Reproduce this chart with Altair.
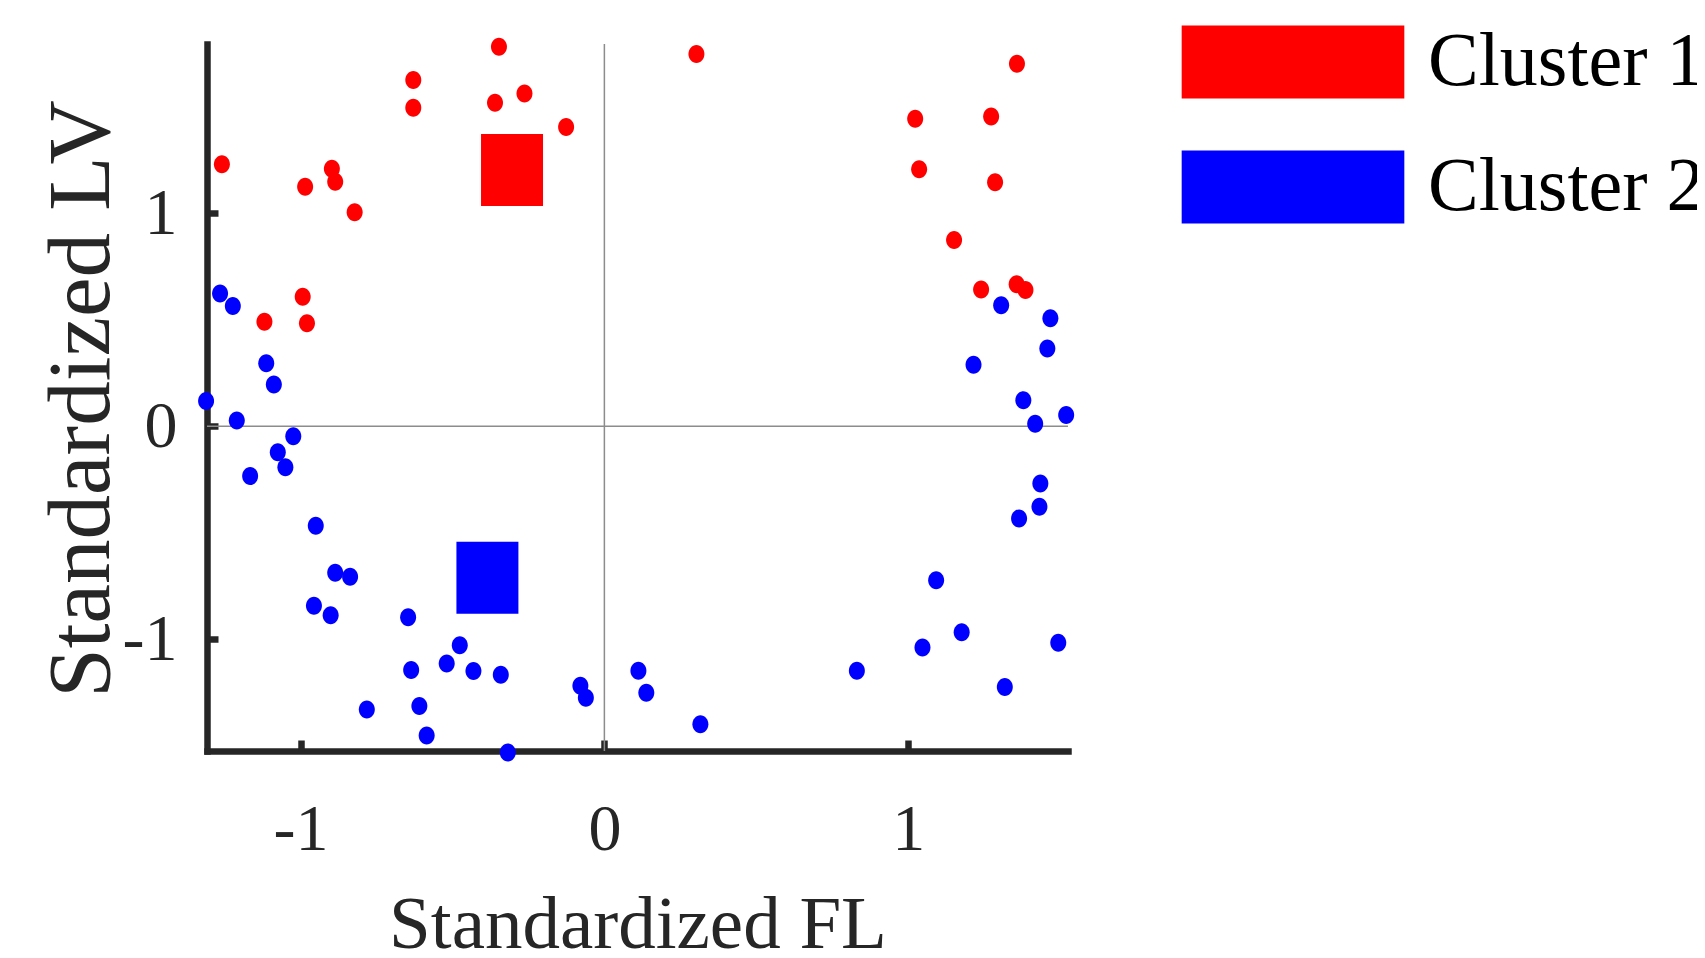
import altair as alt
import pandas as pd

# ---- data ----
c1_x = [-0.347, -0.629, -0.629, -0.263, -0.360, -0.126, -1.259, -0.897, -0.886, -0.985,
        -0.822, -0.993, -1.119, -0.979, 0.303, 1.358, 1.023, 1.273, 1.036, 1.286,
        1.151, 1.240, 1.357, 1.386]
c1_y = [1.782, 1.626, 1.496, 1.563, 1.519, 1.405, 1.231, 1.209, 1.148, 1.125,
        1.005, 0.608, 0.491, 0.484, 1.748, 1.702, 1.444, 1.455, 1.207, 1.146,
        0.875, 0.643, 0.667, 0.640]
c2_x = [-1.265, -1.223, -1.113, -1.088, -1.311, -1.210, -1.024, -1.075, -1.050, -1.166,
        -0.950, -0.886, -0.837, -0.956, -0.901, -0.646, -0.476, -0.519, -0.636, -0.431,
        -0.341, -0.079, -0.061, -0.782, -0.609, -0.585, -0.318, 1.306, 1.468, 1.458,
        1.215, 1.379, 1.520, 1.418, 1.435, 1.432, 1.365, 1.092, 1.176, 1.047,
        1.494, 0.831, 1.318, 0.112, 0.138, 0.316]
c2_y = [0.624, 0.565, 0.296, 0.197, 0.119, 0.028, -0.046, -0.122, -0.192, -0.233,
        -0.467, -0.687, -0.706, -0.842, -0.887, -0.896, -1.028, -1.113, -1.144, -1.149,
        -1.166, -1.218, -1.274, -1.329, -1.313, -1.451, -1.531, 0.569, 0.507, 0.366,
        0.289, 0.123, 0.053, 0.012, -0.268, -0.377, -0.432, -0.722, -0.967, -1.038,
        -1.016, -1.147, -1.223, -1.147, -1.251, -1.398]
cent_x = [-0.304, -0.385]
cent_y = [1.203, -0.711]
cluster_names = ["Cluster 1", "Cluster 2"]
cluster_colors = ["#ff0000", "#0000ff"]
x_ticks = [-1, 0, 1]
y_ticks = [-1, 0, 1]
x_domain = [-1.308, 1.526]
y_domain = [-1.524, 1.795]
zero_vals = [0]

pts = pd.DataFrame({
    "fl": c1_x + c2_x,
    "lv": c1_y + c2_y,
    "cluster": [cluster_names[0]] * len(c1_x) + [cluster_names[1]] * len(c2_x),
})
cent = pd.DataFrame({"fl": cent_x, "lv": cent_y, "cluster": cluster_names})
zero = pd.DataFrame({"v": zero_vals})

W, H = 861, 707
FONT = "Liberation Serif"
AX = "#262626"
LAB = "(datum.value < 0 ? '-' : '') + abs(datum.value)"

ELLIPSE = "M-0.889,0A0.889,1,0,1,0,0.889,0A0.889,1,0,1,0,-0.889,0Z"
CENT_RECT = "M-0.861,-1L0.861,-1L0.861,1L-0.861,1Z"
LEG_RECT = "M-3.05,-1L3.05,-1L3.05,1L-3.05,1Z"

xs = alt.Scale(domain=x_domain, nice=False, zero=False)
ys = alt.Scale(domain=y_domain, nice=False, zero=False)
cs = alt.Scale(domain=cluster_names, range=cluster_colors)

main_x_axis = alt.Axis(
    orient="bottom", values=x_ticks, labelExpr=LAB, ticks=False, tickSize=0, grid=False,
    domain=True, domainColor=AX, domainWidth=6.5, domainCap="square",
    labelFont=FONT, labelFontSize=66, labelColor=AX, labelPadding=98,
    labelBaseline="alphabetic", labelAlign="center", labelFlush=False, labelOverlap=False,
    title="Standardized FL", titleFont=FONT, titleFontSize=75, titleFontWeight="normal",
    titleColor=AX, titleBaseline="alphabetic", titleX=W / 2, titleY=196, titleAlign="center",
)
main_y_axis = alt.Axis(
    orient="left", values=y_ticks, labelExpr=LAB, ticks=False, tickSize=0, grid=False,
    domain=True, domainColor=AX, domainWidth=6.5, domainCap="square",
    labelFont=FONT, labelFontSize=66, labelColor=AX, labelPadding=30,
    labelBaseline="middle", labelAlign="right", labelFlush=False, labelOverlap=False,
    title="Standardized LV", titleFont=FONT, titleFontSize=89, titleFontWeight="normal",
    titleColor=AX, titleBaseline="alphabetic", titleAngle=270, titleX=-99, titleY=354.5,
    titleAlign="center",
)
tick_x_axis = alt.Axis(
    orient="top", offset=-H, values=x_ticks, labels=False, domain=False, grid=False,
    ticks=True, tickSize=11, tickWidth=6.5, tickColor=AX, title=None,
)
tick_y_axis = alt.Axis(
    orient="right", offset=-W, values=y_ticks, labels=False, domain=False, grid=False,
    ticks=True, tickSize=11, tickWidth=6.5, tickColor=AX, title=None,
)

legend = alt.Legend(
    title=None, orient="none", legendX=1048, legendY=-20, direction="vertical",
    symbolType=LEG_RECT, symbolSize=5329, symbolOffset=0, symbolStrokeWidth=0,
    symbolOpacity=1, labelOffset=97, labelFont=FONT, labelFontSize=76,
    labelColor="#000000", labelLimit=0, rowPadding=49, padding=0,
)

vrule = alt.Chart(zero).mark_rule(color="#8c8c8c", strokeWidth=1.5).encode(
    x=alt.X("v:Q", scale=xs, axis=None))
hrule = alt.Chart(zero).mark_rule(color="#8c8c8c", strokeWidth=1.5).encode(
    y=alt.Y("v:Q", scale=ys, axis=None))

points = alt.Chart(pts).mark_point(
    shape=ELLIPSE, size=324, filled=True, opacity=1, strokeWidth=0
).encode(
    x=alt.X("fl:Q", scale=xs, axis=main_x_axis),
    y=alt.Y("lv:Q", scale=ys, axis=main_y_axis),
    color=alt.Color("cluster:N", scale=cs, legend=legend),
)

centroids = alt.Chart(cent).mark_point(
    shape=CENT_RECT, size=5184, filled=True, opacity=1, strokeWidth=0
).encode(
    x=alt.X("fl:Q", scale=xs, axis=tick_x_axis),
    y=alt.Y("lv:Q", scale=ys, axis=tick_y_axis),
    color=alt.Color("cluster:N", scale=cs, legend=None),
)

chart = alt.layer(vrule, hrule, points, centroids).resolve_axis(
    x="independent", y="independent"
).properties(
    width=W, height=H,
    autosize=alt.AutoSizeParams(type="none"),
    padding={"left": 199, "top": 36, "right": 629, "bottom": 199},
    background="white",
).configure_view(stroke=None)

chart.save("out.html", embed_options={"renderer": "svg", "actions": False})
